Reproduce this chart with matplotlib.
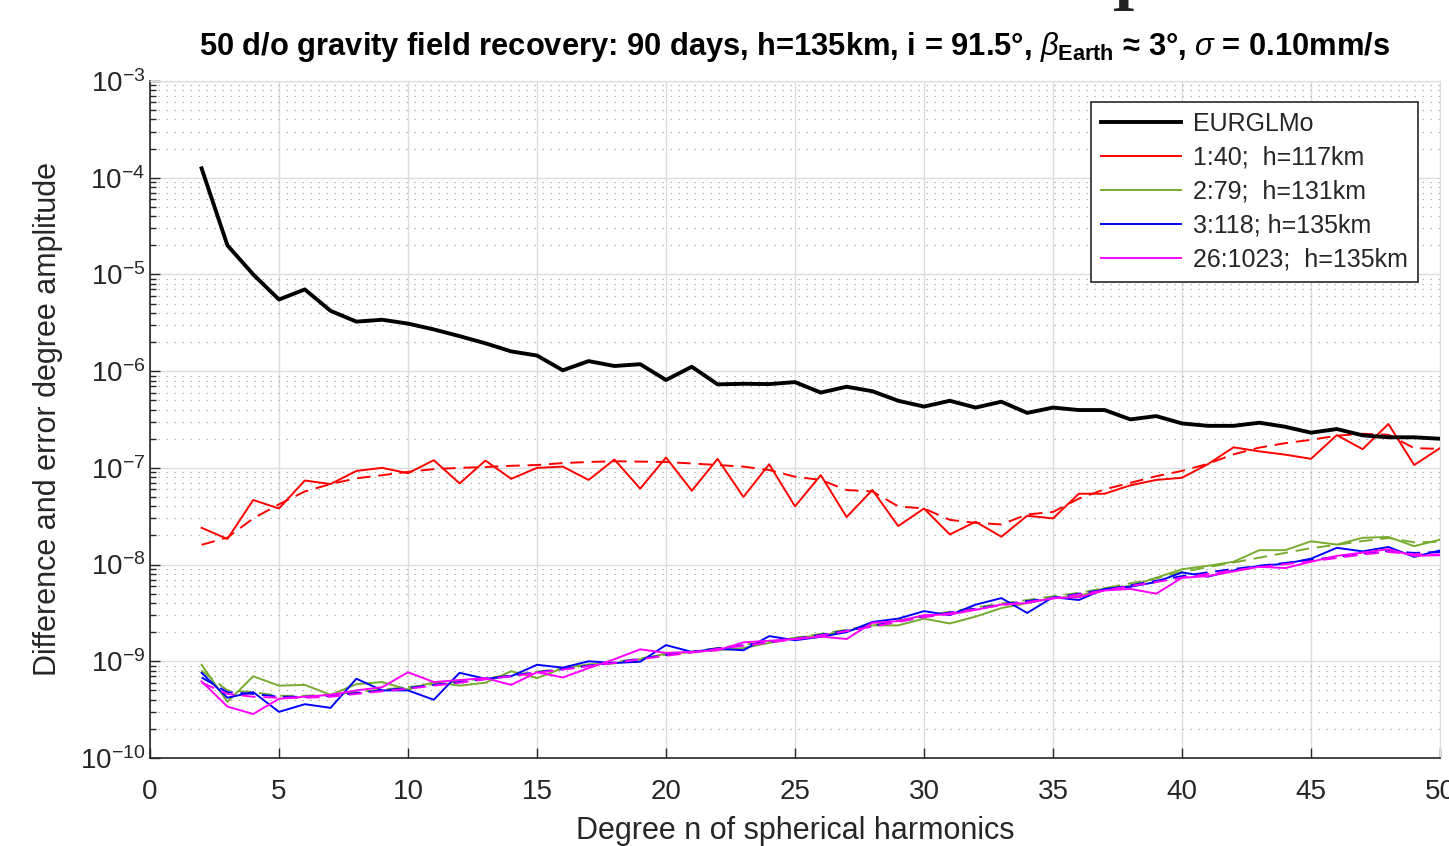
import matplotlib
matplotlib.use("Agg")
import matplotlib.pyplot as plt
import numpy as np
from matplotlib.ticker import LogLocator, MultipleLocator, NullFormatter

plt.rcParams["font.family"] = ["Liberation Sans", "DejaVu Sans"]
plt.rcParams["mathtext.fontset"] = "custom"
plt.rcParams["mathtext.rm"] = "Liberation Sans"
plt.rcParams["mathtext.it"] = "Liberation Sans:italic"
plt.rcParams["mathtext.bf"] = "Liberation Sans:bold"

# degree n = 2..50
degree = np.arange(2, 51)

eurglmo = [1.25e-4, 2.0e-5, 1.0e-5, 5.5e-6, 7.0e-6, 4.2e-6, 3.25e-6, 3.4e-6, 3.1e-6,
           2.7e-6, 2.3e-6, 1.94e-6, 1.6e-6, 1.45e-6, 1.02e-6, 1.27e-6, 1.13e-6, 1.18e-6,
           8.1e-7, 1.11e-6, 7.3e-7, 7.4e-7, 7.35e-7, 7.7e-7, 6.0e-7, 6.9e-7, 6.2e-7,
           4.94e-7, 4.3e-7, 4.94e-7, 4.2e-7, 4.83e-7, 3.7e-7, 4.2e-7, 3.96e-7, 3.96e-7,
           3.17e-7, 3.43e-7, 2.88e-7, 2.72e-7, 2.72e-7, 2.93e-7, 2.66e-7, 2.31e-7,
           2.52e-7, 2.17e-7, 2.07e-7, 2.07e-7, 2.0e-7]

red_diff = [2.4e-8, 1.84e-8, 4.65e-8, 3.8e-8, 7.4e-8, 6.8e-8, 9.3e-8, 1.0e-7, 8.8e-8,
            1.2e-7, 6.9e-8, 1.19e-7, 7.7e-8, 1.0e-7, 1.03e-7, 7.5e-8, 1.22e-7, 6.1e-8,
            1.28e-7, 5.8e-8, 1.24e-7, 5.0e-8, 1.09e-7, 4.0e-8, 8.4e-8, 3.1e-8, 5.9e-8,
            2.5e-8, 3.8e-8, 2.05e-8, 2.77e-8, 1.94e-8, 3.2e-8, 3.0e-8, 5.4e-8, 5.4e-8,
            6.6e-8, 7.5e-8, 7.9e-8, 1.09e-7, 1.63e-7, 1.48e-7, 1.37e-7, 1.24e-7, 2.18e-7,
            1.56e-7, 2.84e-7, 1.07e-7, 1.6e-7]
red_err = [1.6e-8, 1.9e-8, 3.0e-8, 4.2e-8, 5.7e-8, 6.8e-8, 7.8e-8, 8.4e-8, 9.1e-8,
           9.7e-8, 1.0e-7, 1.02e-7, 1.05e-7, 1.07e-7, 1.12e-7, 1.15e-7, 1.17e-7, 1.16e-7,
           1.15e-7, 1.11e-7, 1.07e-7, 1.03e-7, 9.5e-8, 8.1e-8, 7.5e-8, 5.9e-8, 5.7e-8,
           4.0e-8, 3.8e-8, 2.9e-8, 2.7e-8, 2.6e-8, 3.3e-8, 3.5e-8, 4.8e-8, 6.0e-8,
           7.0e-8, 8.2e-8, 9.3e-8, 1.1e-7, 1.38e-7, 1.62e-7, 1.8e-7, 1.95e-7, 2.15e-7,
           2.25e-7, 2.2e-7, 1.6e-7, 1.57e-7]

green_diff = [9.2e-10, 3.8e-10, 7.0e-10, 5.6e-10, 5.7e-10, 4.5e-10, 5.8e-10, 6.1e-10,
              5.1e-10, 6.1e-10, 5.6e-10, 6.0e-10, 7.9e-10, 6.7e-10, 8.5e-10, 9.3e-10,
              9.5e-10, 1.05e-9, 1.2e-9, 1.25e-9, 1.3e-9, 1.37e-9, 1.55e-9, 1.75e-9,
              1.85e-9, 2.05e-9, 2.35e-9, 2.35e-9, 2.76e-9, 2.46e-9, 2.9e-9, 3.55e-9,
              4.0e-9, 4.5e-9, 4.7e-9, 5.7e-9, 6.0e-9, 7.3e-9, 8.95e-9, 9.7e-9, 1.07e-8,
              1.41e-8, 1.41e-8, 1.74e-8, 1.61e-8, 1.89e-8, 1.93e-8, 1.55e-8, 1.81e-8]
green_err = [8.0e-10, 5.0e-10, 4.8e-10, 4.4e-10, 4.4e-10, 4.5e-10, 4.8e-10, 5.1e-10,
             5.4e-10, 5.8e-10, 6.2e-10, 6.7e-10, 7.2e-10, 7.8e-10, 8.4e-10, 9.1e-10,
             9.8e-10, 1.07e-9, 1.17e-9, 1.26e-9, 1.37e-9, 1.48e-9, 1.6e-9, 1.74e-9,
             1.92e-9, 2.12e-9, 2.36e-9, 2.64e-9, 2.95e-9, 3.25e-9, 3.6e-9, 3.95e-9,
             4.3e-9, 4.7e-9, 5.1e-9, 5.7e-9, 6.4e-9, 7.2e-9, 8.4e-9, 9.4e-9, 1.05e-8,
             1.18e-8, 1.32e-8, 1.48e-8, 1.6e-8, 1.75e-8, 1.88e-8, 1.7e-8, 1.72e-8]

blue_diff = [7.6e-10, 4.2e-10, 4.8e-10, 3.0e-10, 3.6e-10, 3.3e-10, 6.6e-10, 5.0e-10,
             5.0e-10, 4.0e-10, 7.6e-10, 6.6e-10, 7.0e-10, 9.2e-10, 8.6e-10, 1.0e-9,
             9.6e-10, 9.9e-10, 1.47e-9, 1.25e-9, 1.35e-9, 1.3e-9, 1.82e-9, 1.65e-9,
             1.79e-9, 2.0e-9, 2.55e-9, 2.76e-9, 3.3e-9, 3.0e-9, 3.85e-9, 4.5e-9, 3.16e-9,
             4.6e-9, 4.3e-9, 5.6e-9, 5.9e-9, 6.6e-9, 8.3e-9, 7.5e-9, 8.7e-9, 9.7e-9,
             1.02e-8, 1.15e-8, 1.49e-8, 1.37e-8, 1.52e-8, 1.2e-8, 1.4e-8]
blue_err = [6.8e-10, 4.8e-10, 4.6e-10, 4.3e-10, 4.3e-10, 4.4e-10, 4.7e-10, 5.0e-10,
            5.3e-10, 5.7e-10, 6.1e-10, 6.6e-10, 7.1e-10, 7.7e-10, 8.3e-10, 9.0e-10,
            9.7e-10, 1.06e-9, 1.16e-9, 1.25e-9, 1.36e-9, 1.47e-9, 1.58e-9, 1.71e-9,
            1.88e-9, 2.08e-9, 2.32e-9, 2.6e-9, 2.9e-9, 3.2e-9, 3.5e-9, 3.85e-9, 4.2e-9,
            4.5e-9, 5.0e-9, 5.5e-9, 6.1e-9, 6.8e-9, 7.6e-9, 8.3e-9, 9.0e-9, 9.7e-9,
            1.04e-8, 1.12e-8, 1.2e-8, 1.3e-8, 1.38e-8, 1.32e-8, 1.35e-8]

magenta_diff = [6.2e-10, 3.4e-10, 2.85e-10, 4.1e-10, 4.3e-10, 4.5e-10, 5.0e-10, 5.4e-10,
                7.7e-10, 6.1e-10, 6.4e-10, 6.7e-10, 5.7e-10, 7.7e-10, 6.8e-10, 8.5e-10,
                1.05e-9, 1.33e-9, 1.22e-9, 1.25e-9, 1.3e-9, 1.57e-9, 1.63e-9, 1.7e-9,
                1.8e-9, 1.7e-9, 2.5e-9, 2.6e-9, 3.0e-9, 3.05e-9, 3.4e-9, 3.86e-9, 4.0e-9,
                4.5e-9, 4.6e-9, 5.4e-9, 5.6e-9, 5.0e-9, 7.3e-9, 7.6e-9, 8.5e-9, 9.5e-9,
                9.2e-9, 1.07e-8, 1.23e-8, 1.33e-8, 1.44e-8, 1.23e-8, 1.25e-8]
magenta_err = [6.0e-10, 4.6e-10, 4.3e-10, 4.2e-10, 4.2e-10, 4.3e-10, 4.6e-10, 4.9e-10,
               5.2e-10, 5.6e-10, 6.0e-10, 6.5e-10, 7.0e-10, 7.6e-10, 8.2e-10, 8.9e-10,
               9.6e-10, 1.05e-9, 1.14e-9, 1.23e-9, 1.34e-9, 1.45e-9, 1.56e-9, 1.69e-9,
               1.85e-9, 2.05e-9, 2.28e-9, 2.55e-9, 2.85e-9, 3.15e-9, 3.45e-9, 3.8e-9,
               4.1e-9, 4.45e-9, 4.9e-9, 5.4e-9, 6.0e-9, 6.6e-9, 7.3e-9, 8.0e-9, 8.7e-9,
               9.4e-9, 1.01e-8, 1.08e-8, 1.17e-8, 1.27e-8, 1.35e-8, 1.28e-8, 1.27e-8]

labels = ["EURGLMo", "1:40;  h=117km", "2:79;  h=131km", "3:118; h=135km",
          "26:1023;  h=135km"]
title = (r"50 d/o gravity field recovery: 90 days, h=135km, i = 91.5°, "
         r"$\beta_{\mathbf{Earth}}$ ≈ 3°, $\sigma$ = 0.10mm/s")

fig = plt.figure(figsize=(14.49, 8.46), dpi=100)
ax = fig.add_axes([150 / 1449, 1 - 758 / 846, 1290 / 1449, 677 / 846])

dash = (0, (7, 4))
ax.semilogy(degree, eurglmo, color="k", lw=2.8, label=labels[0], zorder=5)
series = [(red_diff, red_err, "#ff0000"), (green_diff, green_err, "#77ac30"),
          (blue_diff, blue_err, "#0000ff"), (magenta_diff, magenta_err, "#ff00ff")]
for i, (d, e, c) in enumerate(series):
    ax.semilogy(degree, d, color=c, lw=1.4, label=labels[i + 1], zorder=3)
    ax.semilogy(degree, e, color=c, lw=1.4, ls=dash, zorder=3)

ax.set_xlim(0, 50)
ax.set_ylim(1e-10, 1e-3)
ax.xaxis.set_major_locator(MultipleLocator(5))
ax.yaxis.set_major_locator(LogLocator(base=10, numticks=20))
ax.yaxis.set_minor_locator(LogLocator(base=10, subs=np.arange(2, 10), numticks=20))
ax.yaxis.set_minor_formatter(NullFormatter())

ax.grid(True, which="major", color="#dcdcdc", lw=1.0, ls="-", zorder=0)
ax.grid(True, which="minor", axis="y", color="#a8a8a8", lw=0.8, ls=(0, (1.2, 6)), zorder=0)
ax.set_axisbelow(True)

ax.tick_params(axis="both", which="both", direction="in", colors="#262626",
               labelsize=20, top=False, right=False)
ax.tick_params(which="major", length=7, width=1)
ax.tick_params(which="minor", length=4, width=1)
ax.tick_params(axis="x", pad=15)
for side in ["left", "bottom"]:
    ax.spines[side].set_color("#262626")
    ax.spines[side].set_linewidth(1.2)
for side in ["top", "right"]:
    ax.spines[side].set_color("#dcdcdc")

ax.set_xlabel("Degree n of spherical harmonics", fontsize=22, color="#262626", labelpad=8)
ax.set_ylabel("Difference and error degree amplitude", fontsize=22, color="#262626", labelpad=12)
ax.set_title(title, fontsize=22.2, fontweight="bold", color="k", pad=19)

leg = ax.legend(loc="upper right", bbox_to_anchor=(1418 / 1449, 1 - 102 / 846),
                bbox_transform=fig.transFigure, borderaxespad=0, fontsize=18,
                handlelength=3.2, labelspacing=0.40, handletextpad=0.5,
                borderpad=0.4, fancybox=False, framealpha=1)
leg.get_frame().set_edgecolor("#262626")
leg.get_frame().set_linewidth(1.2)
for t in leg.get_texts():
    t.set_color("#262626")

# fragment of a larger glyph cut off at the very top of the image
fig.text(1124 / 1449, 1 - 11 / 846, "I", family="Liberation Serif", fontweight="bold",
         fontsize=44, ha="center", va="baseline", color="#222222")

fig.savefig("out.png", dpi=100)
